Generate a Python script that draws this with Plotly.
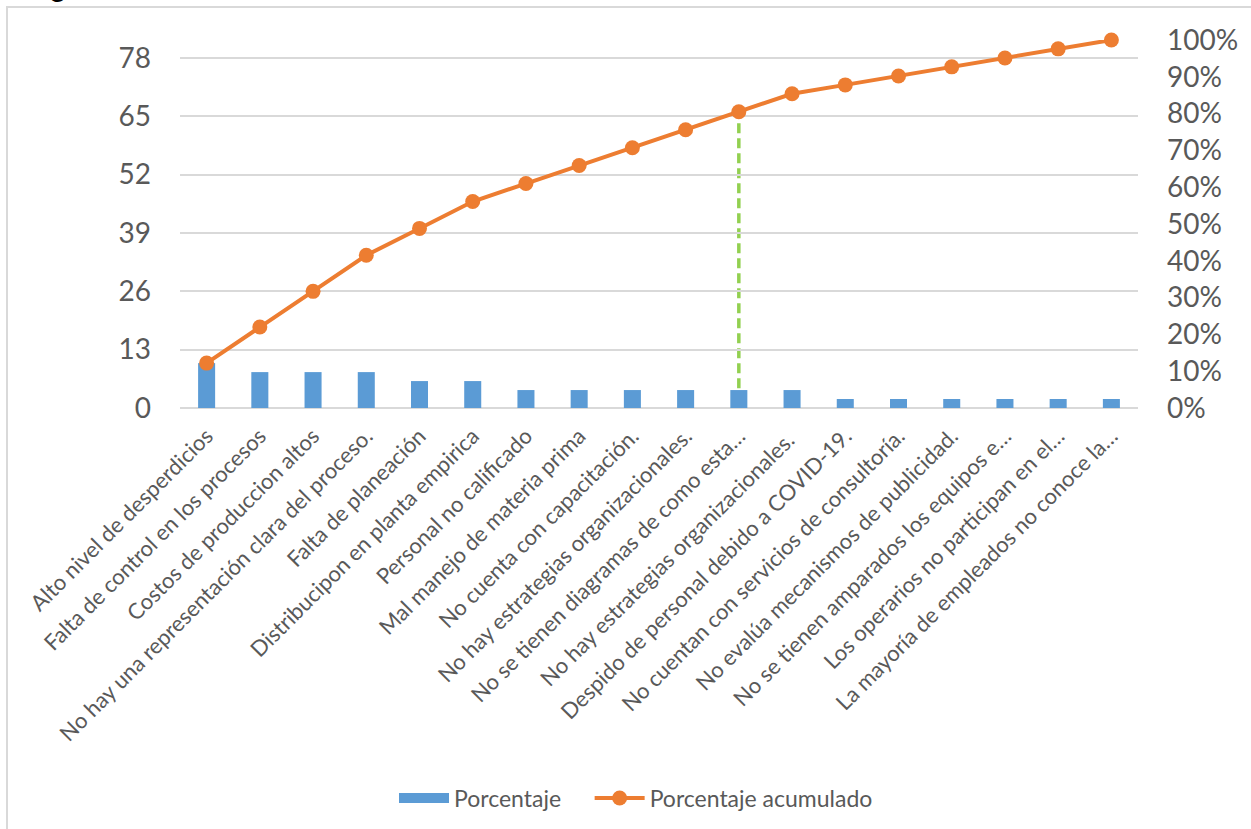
import plotly.graph_objects as go

categories = [
    "Alto nivel de desperdicios",
    "Falta de control en los procesos",
    "Costos de produccion altos",
    "No hay una representación clara del proceso.",
    "Falta de planeación",
    "Distribucipon en planta empirica",
    "Personal no calificado",
    "Mal manejo de materia prima",
    "No cuenta con capacitación.",
    "No hay estrategias organizacionales.",
    "No se tienen diagramas de como esta…",
    "No hay estrategias organizacionales. ",
    "Despido de personal debido a COVID-19.",
    "No cuentan con servicios de consultoría.",
    "No evalúa mecanismos de publicidad.",
    "No se tienen amparados los equipos e…",
    "Los operarios no participan en el…",
    "La mayoría de empleados no conoce la…",
]
porcentaje = [10, 8, 8, 8, 6, 6, 4, 4, 4, 4, 4, 4, 2, 2, 2, 2, 2, 2]
porcentaje_acumulado = [12.2, 22.0, 31.7, 41.5, 48.8, 56.1, 61.0, 65.9, 70.7,
                        75.6, 80.5, 85.4, 87.8, 90.2, 92.7, 95.1, 97.6, 100.0]
left_ticks = [0, 13, 26, 39, 52, 65, 78]
left_max = 82
cut_index = 10

FONT = "Lato"
TXT = "#595959"
BLUE = "#5B9BD5"
ORANGE = "#ED7D31"

fig = go.Figure()
fig.add_trace(go.Bar(
    x=categories, y=porcentaje, name="Porcentaje",
    marker=dict(color=BLUE, line=dict(width=0)),
    width=0.32, yaxis="y", showlegend=False, legendgroup="p",
))
# legend-only entry giving the wide rectangular swatch
fig.add_trace(go.Scatter(
    x=[None], y=[None], name="Porcentaje" + "\u00a0" * 4, mode="lines",
    line=dict(color=BLUE, width=13), legendgroup="p", showlegend=True,
))
fig.add_trace(go.Scatter(
    x=categories, y=porcentaje_acumulado, name="Porcentaje acumulado",
    mode="lines+markers", yaxis="y2", cliponaxis=False,
    line=dict(color=ORANGE, width=4),
    marker=dict(color=ORANGE, size=15),
))

fig.add_shape(
    type="line", xref="x", yref="y",
    x0=cut_index, x1=cut_index,
    y0=porcentaje[cut_index] + 0.4,
    y1=porcentaje_acumulado[cut_index] / 100 * left_max,
    line=dict(color="#92D050", width=3.5, dash="10px,5px"),
    layer="below",
)

# chart border (left and top visible)
fig.add_shape(type="rect", xref="paper", yref="paper",
              x0=(7 - 180) / 958, x1=(1300 - 180) / 958,
              y0=(408 - 900) / 368, y1=(408 - 7) / 368,
              line=dict(color="#D9D9D9", width=2), layer="below")

fig.add_annotation(text="Figura", xref="paper", yref="paper",
                   x=(26 - 180) / 958, y=(408 - 5) / 368,
                   xanchor="left", yanchor="bottom", showarrow=False,
                   font=dict(family=FONT, size=28, color="#000000"))

fig.update_layout(
    width=1251, height=829,
    margin=dict(l=180, r=113, t=40, b=421, autoexpand=False),
    paper_bgcolor="white", plot_bgcolor="white",
    font=dict(family=FONT, color=TXT),
    showlegend=True,
    legend=dict(orientation="h", x=(394 - 180) / 958, xanchor="left",
                y=(408 - 798) / 368, yanchor="middle",
                font=dict(family=FONT, size=23, color=TXT),
                itemwidth=50, traceorder="normal"),
    xaxis=dict(
        type="category", tickangle=-45, showgrid=False, showline=False,
        range=[-0.5, len(categories) - 0.5],
        ticks="", tickfont=dict(family=FONT, size=22, color=TXT),
        ticklabelstandoff=10, automargin=False,
    ),
    yaxis=dict(
        range=[0, left_max], tickvals=left_ticks, showgrid=True,
        gridcolor="#D9D9D9", gridwidth=2, zeroline=True, zerolinecolor="#D9D9D9",
        zerolinewidth=2, showline=False, ticks="",
        tickfont=dict(family=FONT, size=28, color=TXT),
        ticklabelstandoff=28, automargin=False,
    ),
    yaxis2=dict(
        range=[0, 100], dtick=10, ticksuffix="%", overlaying="y", side="right",
        showgrid=False, zeroline=False, showline=False, ticks="",
        tickfont=dict(family=FONT, size=28, color=TXT),
        ticklabelstandoff=28, automargin=False,
    ),
)

fig.write_html("out.html")
